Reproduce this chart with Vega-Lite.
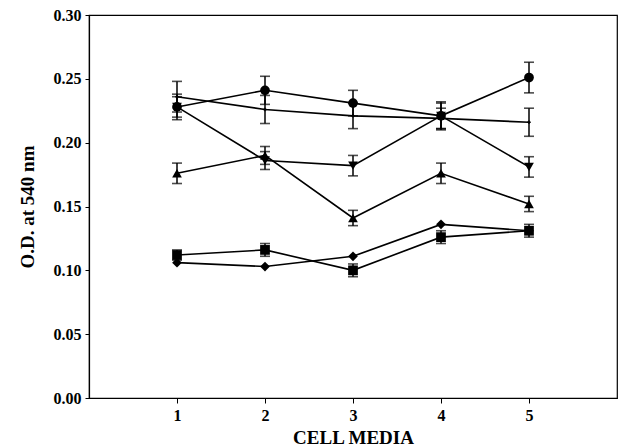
{
  "$schema": "https://vega.github.io/schema/vega-lite/v6.json",
  "width": 528,
  "height": 383,
  "autosize": "none",
  "padding": {"left": 89, "top": 15, "right": 21, "bottom": 50},
  "background": "white",
  "config": {
    "view": {"stroke": "black", "strokeWidth": 1.2},
    "font": "Liberation Serif",
    "axis": {
      "domainColor": "black",
      "tickColor": "black",
      "labelColor": "black",
      "titleColor": "black",
      "labelFont": "Liberation Serif",
      "titleFont": "Liberation Serif",
      "labelFontWeight": "bold",
      "titleFontWeight": "bold",
      "labelFontSize": 16,
      "titleFontSize": 19,
      "grid": false,
      "domainWidth": 1.2
    }
  },
  "data": {
    "values": [
      {"series": "A", "media": 1, "value": 0.228, "lo": 0.218, "hi": 0.238},
      {"series": "A", "media": 2, "value": 0.241, "lo": 0.230, "hi": 0.252},
      {"series": "A", "media": 3, "value": 0.231, "lo": 0.221, "hi": 0.241},
      {"series": "A", "media": 4, "value": 0.221, "lo": 0.211, "hi": 0.231},
      {"series": "A", "media": 5, "value": 0.251, "lo": 0.239, "hi": 0.263},
      {"series": "B", "media": 1, "value": 0.236, "lo": 0.224, "hi": 0.248},
      {"series": "B", "media": 2, "value": 0.226, "lo": 0.215, "hi": 0.237},
      {"series": "B", "media": 3, "value": 0.221, "lo": 0.211, "hi": 0.231},
      {"series": "B", "media": 4, "value": 0.219, "lo": 0.211, "hi": 0.227},
      {"series": "B", "media": 5, "value": 0.216, "lo": 0.205, "hi": 0.227},
      {"series": "C", "media": 1, "value": 0.228, "lo": 0.220, "hi": 0.236},
      {"series": "C", "media": 2, "value": 0.186, "lo": 0.179, "hi": 0.193},
      {"series": "C", "media": 3, "value": 0.182, "lo": 0.174, "hi": 0.190},
      {"series": "C", "media": 4, "value": 0.221, "lo": 0.210, "hi": 0.232},
      {"series": "C", "media": 5, "value": 0.181, "lo": 0.173, "hi": 0.189},
      {"series": "D", "media": 1, "value": 0.176, "lo": 0.168, "hi": 0.184},
      {"series": "D", "media": 2, "value": 0.190, "lo": 0.183, "hi": 0.197},
      {"series": "D", "media": 3, "value": 0.141, "lo": 0.135, "hi": 0.147},
      {"series": "D", "media": 4, "value": 0.176, "lo": 0.168, "hi": 0.184},
      {"series": "D", "media": 5, "value": 0.152, "lo": 0.146, "hi": 0.158},
      {"series": "E", "media": 1, "value": 0.112, "lo": 0.108, "hi": 0.116},
      {"series": "E", "media": 2, "value": 0.116, "lo": 0.111, "hi": 0.121},
      {"series": "E", "media": 3, "value": 0.100, "lo": 0.095, "hi": 0.105},
      {"series": "E", "media": 4, "value": 0.126, "lo": 0.121, "hi": 0.131},
      {"series": "E", "media": 5, "value": 0.131, "lo": 0.126, "hi": 0.136},
      {"series": "F", "media": 1, "value": 0.106, "lo": null, "hi": null},
      {"series": "F", "media": 2, "value": 0.103, "lo": null, "hi": null},
      {"series": "F", "media": 3, "value": 0.111, "lo": null, "hi": null},
      {"series": "F", "media": 4, "value": 0.136, "lo": null, "hi": null},
      {"series": "F", "media": 5, "value": 0.131, "lo": null, "hi": null}
    ]
  },
  "encoding": {
    "x": {
      "field": "media",
      "type": "quantitative",
      "scale": {"domain": [0, 6], "nice": false, "zero": false},
      "axis": {"values": [1, 2, 3, 4, 5], "format": "d", "title": "CELL MEDIA", "tickSize": 5, "labelPadding": 4, "titlePadding": 5}
    }
  },
  "layer": [
    {
      "mark": {"type": "line", "color": "black", "strokeWidth": 1.6},
      "encoding": {
        "y": {
          "field": "value",
          "type": "quantitative",
          "scale": {"domain": [0, 0.3], "nice": false},
          "axis": {"values": [0, 0.05, 0.1, 0.15, 0.2, 0.25, 0.3], "format": ".2f", "title": "O.D. at 540 nm", "tickSize": 4, "labelPadding": 4, "titlePadding": 16}
        },
        "detail": {"field": "series", "type": "nominal"}
      }
    },
    {
      "mark": {"type": "rule", "color": "black", "strokeWidth": 1.5},
      "encoding": {
        "y": {"field": "lo", "type": "quantitative"},
        "y2": {"field": "hi"}
      }
    },
    {
      "mark": {"type": "tick", "orient": "horizontal", "color": "black", "size": 10, "thickness": 1.6},
      "encoding": {"y": {"field": "lo", "type": "quantitative"}}
    },
    {
      "mark": {"type": "tick", "orient": "horizontal", "color": "black", "size": 10, "thickness": 1.6},
      "encoding": {"y": {"field": "hi", "type": "quantitative"}}
    },
    {
      "transform": [{"filter": "datum.series !== 'B'"}],
      "mark": {"type": "point", "filled": true, "color": "black", "opacity": 1, "size": 95},
      "encoding": {
        "y": {"field": "value", "type": "quantitative"},
        "shape": {
          "field": "series",
          "type": "nominal",
          "scale": {"domain": ["A", "C", "D", "E", "F"], "range": ["circle", "triangle-down", "triangle-up", "square", "diamond"]},
          "legend": null
        }
      }
    },
    {
      "transform": [{"filter": "datum.series === 'B'"}],
      "mark": {"type": "point", "filled": true, "color": "black", "opacity": 1, "size": 12, "shape": "cross"},
      "encoding": {
        "y": {"field": "value", "type": "quantitative"}
      }
    }
  ]
}
